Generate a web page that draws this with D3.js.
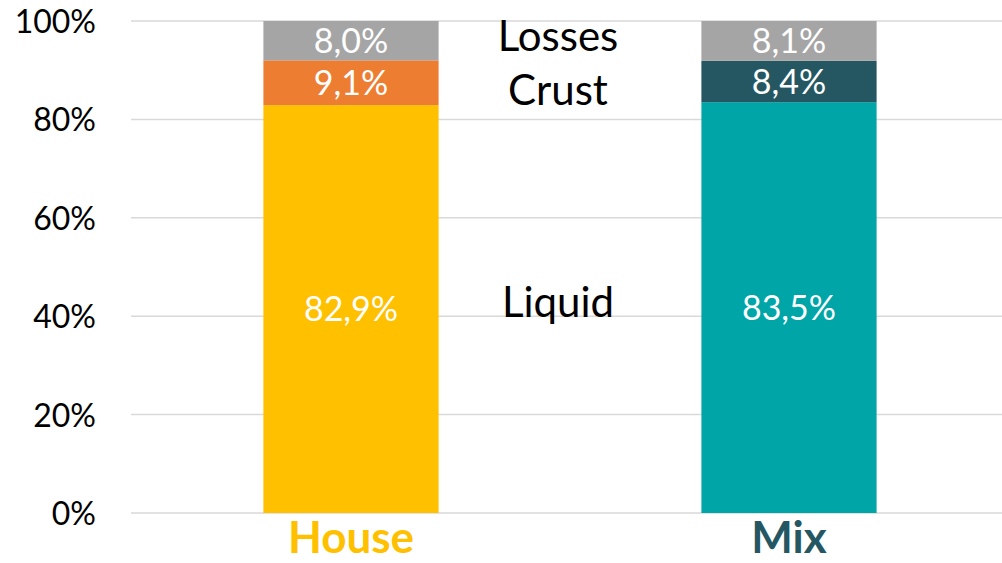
<!DOCTYPE html>
<html>
<head>
<meta charset="utf-8">
<script src="https://cdn.jsdelivr.net/npm/d3@7"></script>
<style>
  html, body { margin: 0; padding: 0; background: #fff; }
  text { font-family: Lato, "Open Sans", sans-serif; }
</style>
</head>
<body>
<div id="chart"></div>
<script>
// data
const categories = ['House', 'Mix']
const seriesNames = ['Liquid', 'Crust', 'Losses']
const liquid = [82.9, 83.5]
const crust = [9.1, 8.4]
const losses = [8.0, 8.1]
const yTicks = [0, 20, 40, 60, 80, 100]

const vWidth = 1002, vHeight = 563
const m = { top: 21, right: -6, bottom: 50, left: 132 }

const colors = {
    House: { Liquid: '#FFC000', Crust: '#ED7D31', Losses: '#A5A5A5' },
    Mix: { Liquid: '#00A5A8', Crust: '#255763', Losses: '#A5A5A5' },
}
const catColors = { House: '#FFC000', Mix: '#255763' }

const rows = categories.map((c, i) => ({ cat: c, Liquid: liquid[i], Crust: crust[i], Losses: losses[i] }))
const stack = d3.stack().keys(seriesNames)(rows)

const svg = d3.select('#chart').append('svg')
    .attr('width', vWidth)
    .attr('height', vHeight)

const x = d3.scaleBand()
    .domain(categories)
    .range([m.left, vWidth - m.right])
    .paddingInner(0.6)
    .paddingOuter(0.3)

const y = d3.scaleLinear()
    .domain([0, 100])
    .range([vHeight - m.bottom, m.top])

// gridlines
svg.append('g')
    .selectAll('line')
    .data(yTicks)
    .enter()
    .append('line')
    .attr('x1', m.left - 1)
    .attr('x2', vWidth)
    .attr('y1', d => y(d))
    .attr('y2', d => y(d))
    .style('stroke', '#D9D9D9')
    .style('stroke-width', 1.5)

// y axis labels
const yAxis = d3.axisLeft(y).tickValues(yTicks).tickFormat(d => d + '%').tickSize(0).tickPadding(36)
const yg = svg.append('g').attr('transform', `translate(${m.left},0)`).call(yAxis)
yg.select('.domain').remove()
yg.selectAll('text')
    .style('font-size', '32px')
    .style('fill', '#000')
    .style('font-family', 'Lato, sans-serif')
    .attr('dy', '0.36em')

// bars
const layer = svg.selectAll('.layer')
    .data(stack)
    .enter()
    .append('g')
    .attr('class', 'layer')

layer.selectAll('rect')
    .data(s => s.map(d => ({ key: s.key, d })))
    .enter()
    .append('rect')
    .attr('x', o => x(o.d.data.cat))
    .attr('width', x.bandwidth())
    .attr('y', o => y(o.d[1]))
    .attr('height', o => y(o.d[0]) - y(o.d[1]))
    .style('fill', o => colors[o.d.data.cat][o.key])

// value labels
layer.selectAll('text')
    .data(s => s.map(d => ({ key: s.key, d })))
    .enter()
    .append('text')
    .attr('x', o => x(o.d.data.cat) + x.bandwidth() / 2)
    .attr('y', o => (y(o.d[0]) + y(o.d[1])) / 2)
    .attr('dy', '0.36em')
    .attr('text-anchor', 'middle')
    .style('font-size', '34px')
    .style('fill', '#fff')
    .text(o => (o.d[1] - o.d[0]).toFixed(1).replace('.', ',') + '%')

// series names between the bars
const midX = (x('House') + x.bandwidth() + x('Mix')) / 2 - 12
const nameY = { Losses: y(100 - losses[0] / 2) - 5, Crust: y(liquid[0] + crust[0] / 2) + 7, Liquid: y(liquid[0] / 2) - 7 }
svg.append('g')
    .selectAll('text')
    .data(seriesNames)
    .enter()
    .append('text')
    .attr('x', midX)
    .attr('y', d => nameY[d])
    .attr('dy', '0.36em')
    .attr('text-anchor', 'middle')
    .style('font-size', '42px')
    .style('fill', '#000')
    .text(d => d)

// category labels
svg.append('g')
    .selectAll('text')
    .data(categories)
    .enter()
    .append('text')
    .attr('x', d => x(d) + x.bandwidth() / 2)
    .attr('y', vHeight - 10)
    .attr('text-anchor', 'middle')
    .style('font-size', '44px')
    .style('font-weight', 'bold')
    .style('fill', d => catColors[d])
    .text(d => d)
</script>
</body>
</html>
